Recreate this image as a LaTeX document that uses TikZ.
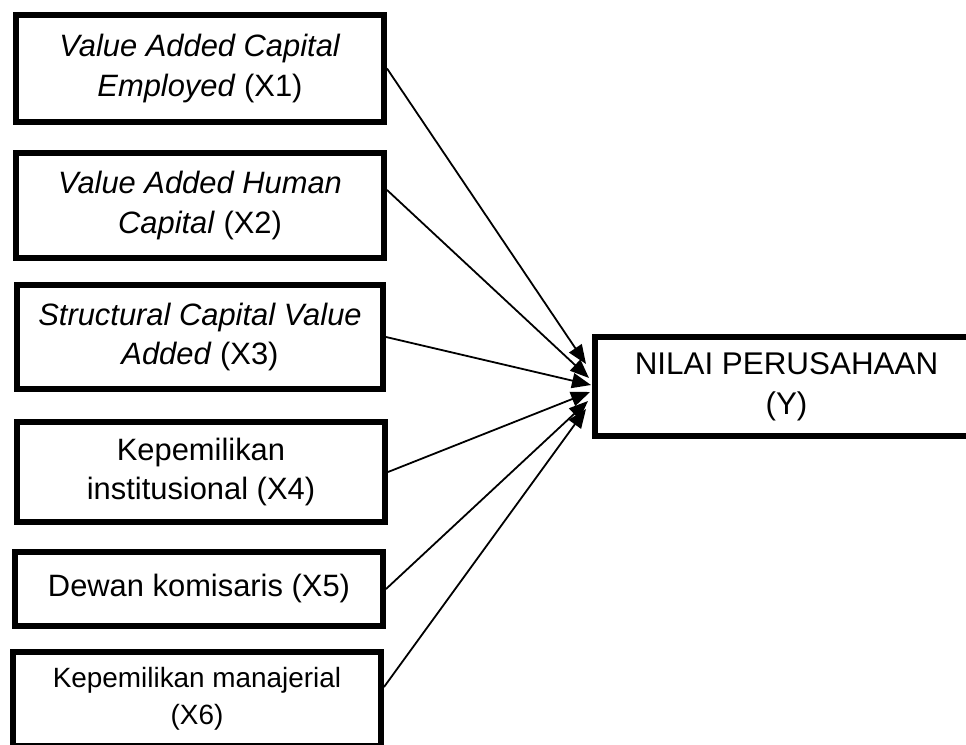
\documentclass[tikz,border=0pt]{standalone}
\usepackage{fontspec}
\setmainfont{Liberation Sans}
\usetikzlibrary{arrows.meta}
\begin{document}
\begin{tikzpicture}[x=1bp,y=-1bp,
  box/.style={draw, line width=6bp, rectangle, align=center, inner sep=0pt,
    font=\fontsize{31}{40}\selectfont},
  smallbox/.style={box, font=\fontsize{28}{37}\selectfont},
  bigbox/.style={box, font=\fontsize{31.5}{40}\selectfont},
  link/.style={line width=1.8bp, -{Triangle[length=19bp,width=15bp]}}]
\clip (0,0) rectangle (966,745);
\node[box, minimum width=368bp, minimum height=107bp] (b1) at (200,68.5)
  {\textit{Value Added Capital}\\\textit{Employed} (X1)};
\node[box, minimum width=368bp, minimum height=105bp] (b2) at (200,205.5)
  {\textit{Value Added Human}\\\textit{Capital} (X2)};
\node[box, minimum width=366bp, minimum height=104bp] (b3) at (200,337)
  {\textit{Structural Capital Value}\\\textit{Added} (X3)};
\node[box, minimum width=368bp, minimum height=100bp] (b4) at (201,472)
  {Kepemilikan\\institusional (X4)};
\node[box, minimum width=368bp, minimum height=74bp] (b5) at (199,589)
  {Dewan komisaris (X5)};
\node[smallbox, minimum width=368bp, minimum height=94bp] (b6) at (197,699)
  {Kepemilikan manajerial\\(X6)};
\node[bigbox, minimum width=383bp, minimum height=99bp] (y) at (786.5,386.5)
  {NILAI PERUSAHAAN\\(Y)};
\coordinate (s2) at (387,190);
\coordinate (s6) at (384,687);
\coordinate (t1) at (586,364);
\coordinate (t2) at (589,378);
\coordinate (t3) at (591,385);
\coordinate (t4) at (590,392);
\coordinate (t5) at (588,401);
\coordinate (t6) at (586,409);
\draw[link] (b1.east) -- (t1);
\draw[link] (s2) -- (t2);
\draw[link] (b3.east) -- (t3);
\draw[link] (b4.east) -- (t4);
\draw[link] (b5.east) -- (t5);
\draw[link] (s6) -- (t6);
\end{tikzpicture}
\end{document}
